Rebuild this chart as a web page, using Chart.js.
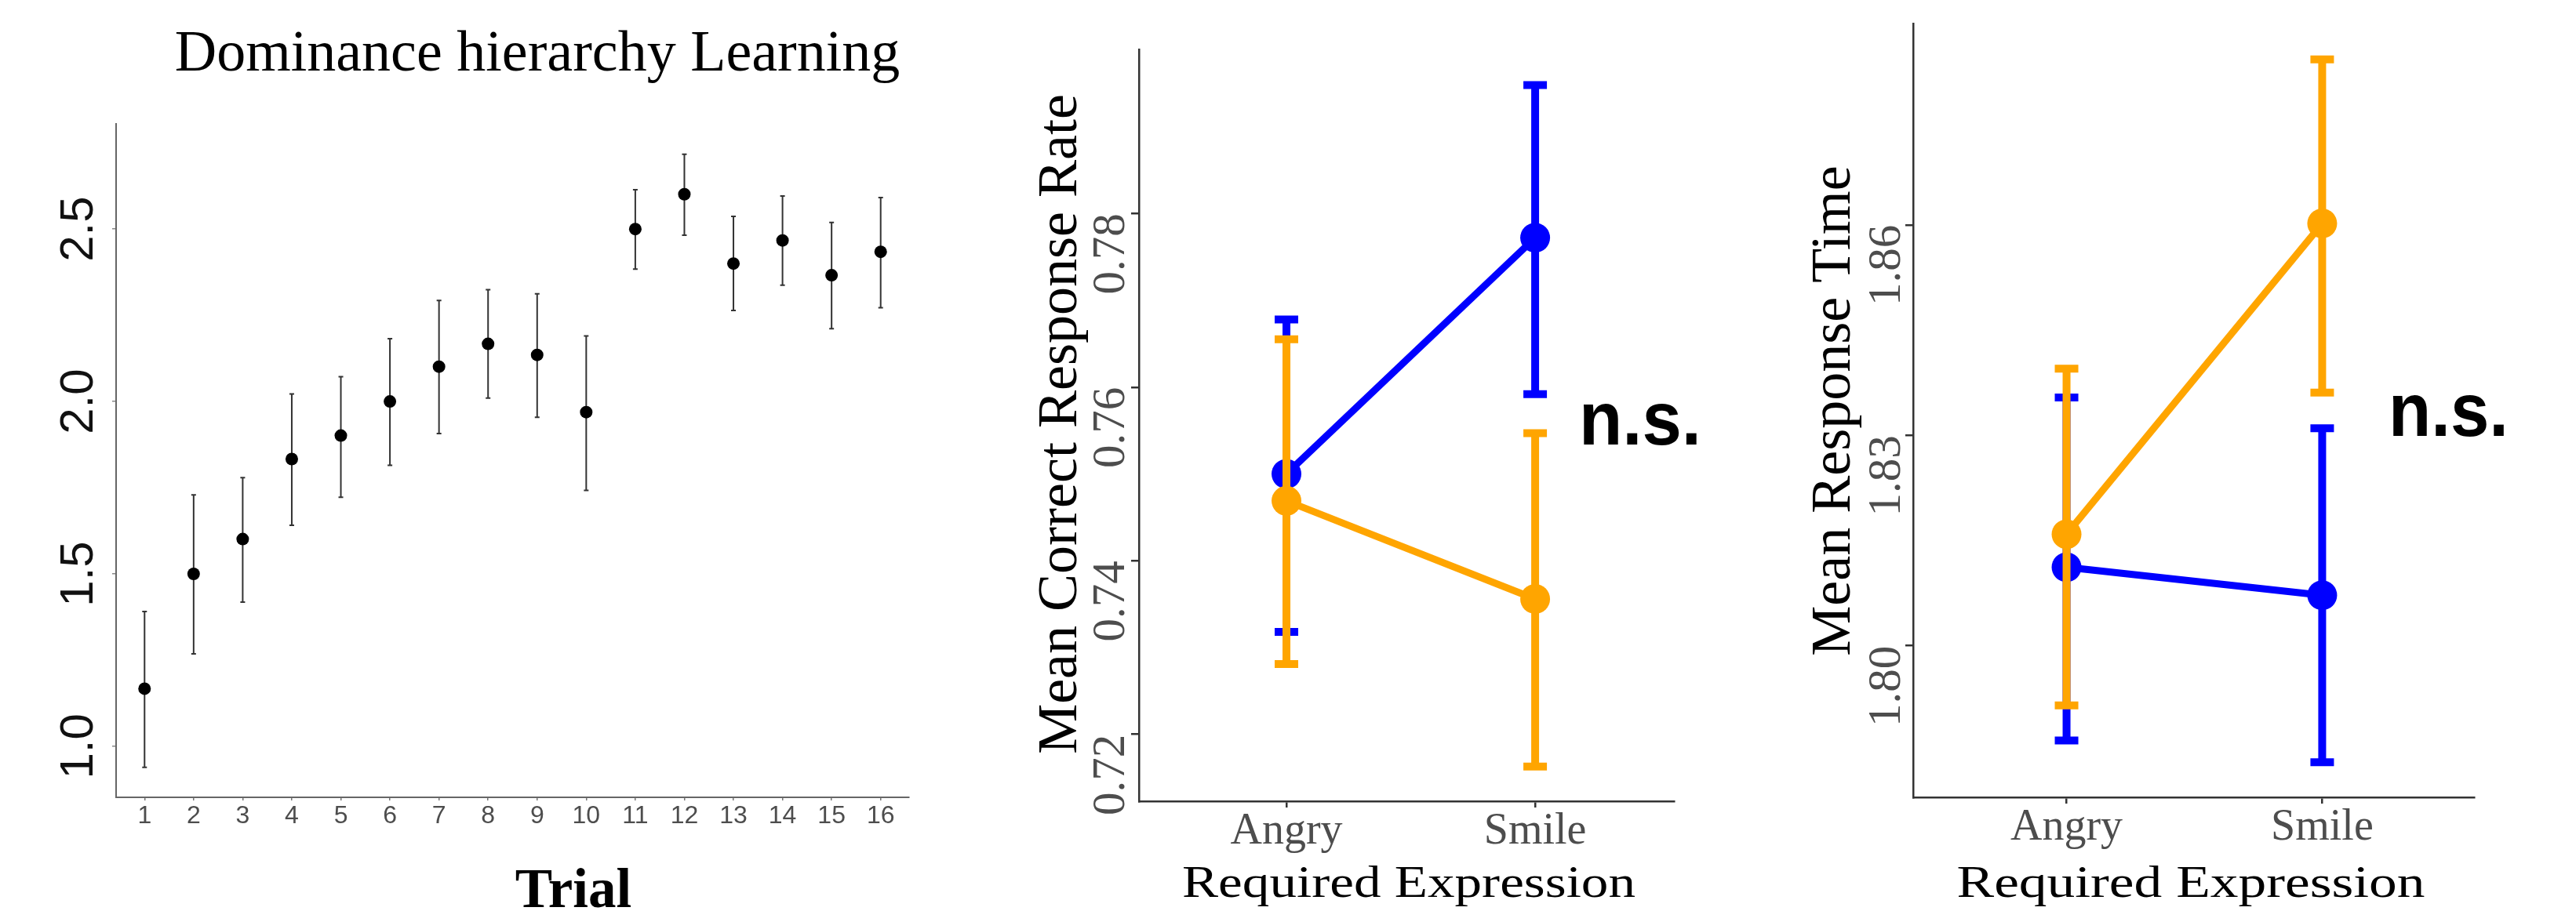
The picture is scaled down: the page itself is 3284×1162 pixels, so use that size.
<!DOCTYPE html>
<html>
<head>
<meta charset="utf-8">
<script src="https://cdn.jsdelivr.net/npm/chart.js@4.4.1/dist/chart.umd.min.js"></script>
<style>
  html, body { margin: 0; padding: 0; background: #fff; overflow: hidden; }
  .panel { position: absolute; top: 0; }
</style>
</head>
<body>
<canvas id="trialChart" class="panel" style="left:0px" width="1200" height="1162"></canvas>
<canvas id="rateChart" class="panel" style="left:1200px" width="1000" height="1162"></canvas>
<canvas id="timeChart" class="panel" style="left:2200px" width="1084" height="1162"></canvas>
<script>
// ---- data: dominance hierarchy learning ----
const trials = [1, 2, 3, 4, 5, 6, 7, 8, 9, 10, 11, 12, 13, 14, 15, 16];
const trialMean  = [1.167, 1.500, 1.601, 1.833, 1.901, 2.000, 2.101, 2.167, 2.135, 1.969, 2.500, 2.601, 2.400, 2.467, 2.366, 2.434];
const trialUpper = [1.391, 1.729, 1.779, 2.022, 2.072, 2.182, 2.293, 2.324, 2.312, 2.190, 2.614, 2.717, 2.537, 2.596, 2.519, 2.591];
const trialLower = [0.939, 1.268, 1.418, 1.641, 1.722, 1.815, 1.907, 2.010, 1.954, 1.742, 2.384, 2.482, 2.264, 2.337, 2.211, 2.272];
const trialTicks = [1.0, 1.5, 2.0, 2.5];

// ---- data: required expression ----
const expressions = ['Angry', 'Smile'];

const rateBlue        = [0.7500, 0.7772];
const rateBlueUpper   = [0.7678, 0.7948];
const rateBlueLower   = [0.7318, 0.7592];
const rateOrange      = [0.7469, 0.7356];
const rateOrangeUpper = [0.7655, 0.7547];
const rateOrangeLower = [0.7281, 0.7163];
const rateTicks = [0.72, 0.74, 0.76, 0.78];

const timeBlue        = [1.8112, 1.8072];
const timeBlueUpper   = [1.8354, 1.8310];
const timeBlueLower   = [1.7865, 1.7834];
const timeOrange      = [1.8159, 1.8602];
const timeOrangeUpper = [1.8395, 1.8836];
const timeOrangeLower = [1.7915, 1.8361];
const timeTicks = [1.80, 1.83, 1.86];

const SERIF = '"Liberation Serif", "Times New Roman", serif';
const SANS = '"Liberation Sans", Arial, sans-serif';

// error bars, drawn just before each dataset so the layering follows dataset order
const errorBars = {
  id: 'errorBars',
  beforeDatasetDraw(chart, args) {
    const ds = chart.data.datasets[args.index];
    if (!ds.errUpper) return;
    const xs = chart.scales.x, ys = chart.scales.y, ctx = chart.ctx;
    ctx.save();
    ctx.strokeStyle = ds.errColor;
    ctx.lineWidth = ds.errWidth;
    ds.data.forEach((p, i) => {
      const px = xs.getPixelForValue(p.x);
      const top = ys.getPixelForValue(ds.errUpper[i]);
      const bot = ys.getPixelForValue(ds.errLower[i]);
      ctx.beginPath();
      ctx.moveTo(px, top); ctx.lineTo(px, bot);
      ctx.moveTo(px - ds.capHalf, top); ctx.lineTo(px + ds.capHalf, top);
      ctx.moveTo(px - ds.capHalf, bot); ctx.lineTo(px + ds.capHalf, bot);
      ctx.stroke();
    });
    ctx.restore();
  }
};

// y tick labels turned 90 degrees, as in the original figure
function yTickLabels(o) {
  return {
    id: 'yTickLabels',
    afterDraw(chart) {
      const ys = chart.scales.y, ctx = chart.ctx;
      ys.ticks.forEach(t => {
        ctx.save();
        ctx.translate(o.x, ys.getPixelForValue(t.value));
        ctx.rotate(-Math.PI / 2);
        ctx.font = o.font;
        ctx.fillStyle = o.color;
        ctx.textAlign = o.align;
        ctx.textBaseline = o.baseline;
        ctx.fillText(t.value.toFixed(o.decimals), 0, 0);
        ctx.restore();
      });
    }
  };
}

// free text (titles, n.s.)
function textLayer(items) {
  return {
    id: 'textLayer',
    afterDraw(chart) {
      const ctx = chart.ctx;
      items.forEach(it => {
        ctx.save();
        ctx.font = it.font;
        ctx.fillStyle = it.color || '#000';
        ctx.textAlign = it.align || 'center';
        ctx.textBaseline = 'alphabetic';
        ctx.translate(it.x, it.y);
        if (it.rotate) ctx.rotate(it.rotate);
        if (it.width) ctx.scale(it.width / ctx.measureText(it.text).width, 1);
        ctx.fillText(it.text, 0, 0);
        ctx.restore();
      });
    }
  };
}

function points(xs, ys) {
  return xs.map((x, i) => ({ x: x, y: ys[i] }));
}

// ---------------- panel 1 ----------------
new Chart(document.getElementById('trialChart'), {
  type: 'scatter',
  data: {
    datasets: [{
      data: points(trials, trialMean),
      errUpper: trialUpper,
      errLower: trialLower,
      errColor: '#333',
      errWidth: 2,
      capHalf: 3,
      pointRadius: 8,
      pointHoverRadius: 8,
      pointBorderWidth: 0,
      backgroundColor: '#000'
    }]
  },
  options: {
    responsive: false,
    animation: false,
    devicePixelRatio: 1,
    layout: { autoPadding: false, padding: { left: 148, right: 41, top: 158, bottom: 0 } },
    plugins: { legend: { display: false }, tooltip: { enabled: false } },
    scales: {
      x: {
        type: 'linear', min: 0.42, max: 16.58,
        afterBuildTicks: s => { s.ticks = trials.map(v => ({ value: v })); },
        afterFit: s => { s.height = 145; },
        border: { display: true, color: '#666', width: 2 },
        grid: { display: true, drawOnChartArea: false, drawTicks: true, tickLength: 4, color: '#777', lineWidth: 1.5 },
        ticks: { autoSkip: false, maxRotation: 0, padding: 4, color: '#4d4d4d',
                 font: { family: SANS, size: 32, lineHeight: 1 } }
      },
      y: {
        type: 'linear', min: 0.852, max: 2.805,
        afterBuildTicks: s => { s.ticks = trialTicks.map(v => ({ value: v })); },
        afterFit: s => { s.width = 0; },
        border: { display: true, color: '#666', width: 2 },
        grid: { display: true, drawOnChartArea: false, drawTicks: true, tickLength: 5, color: '#888', lineWidth: 1.5 },
        ticks: { color: 'rgba(0,0,0,0)' }
      }
    }
  },
  plugins: [
    errorBars,
    yTickLabels({ x: 101, font: '60px ' + SANS, color: '#111', align: 'center', baseline: 'middle', decimals: 1 }),
    textLayer([
      { text: 'Dominance hierarchy Learning', x: 685, y: 90, font: '74px ' + SERIF },
      { text: 'Trial', x: 731, y: 1157, font: 'bold 71px ' + SERIF }
    ])
  ]
});

// ---------------- panels 2 and 3 ----------------
function expressionChart(id, c) {
  const idx = expressions.map((e, i) => i);
  const series = (vals, up, low, color, order) => ({
    type: 'line',
    data: points(idx, vals),
    errUpper: up,
    errLower: low,
    errColor: color,
    errWidth: 10,
    capHalf: 15,
    order: order,
    borderColor: color,
    backgroundColor: color,
    borderWidth: 9,
    tension: 0,
    fill: false,
    pointRadius: 19,
    pointHoverRadius: 19,
    pointBorderWidth: 0
  });
  new Chart(document.getElementById(id), {
    type: 'line',
    data: {
      datasets: [
        series(c.blue, c.blueUp, c.blueLow, '#0000ff', 1),
        series(c.orange, c.orangeUp, c.orangeLow, '#ffa500', 0)
      ]
    },
    options: {
      responsive: false,
      animation: false,
      devicePixelRatio: 1,
      layout: { autoPadding: false, padding: c.padding },
      plugins: { legend: { display: false }, tooltip: { enabled: false } },
      scales: {
        x: {
          type: 'linear', min: c.xMin, max: c.xMax,
          afterBuildTicks: s => { s.ticks = idx.map(v => ({ value: v })); },
          afterFit: s => { s.height = c.xHeight; },
          border: { display: true, color: '#333', width: 2.5 },
          grid: { display: true, drawOnChartArea: false, drawTicks: true, tickLength: 8, color: '#333', lineWidth: 2.5 },
          ticks: { autoSkip: false, maxRotation: 0, padding: 3, color: '#4d4d4d',
                   callback: v => expressions[v],
                   font: { family: SERIF, size: 56, lineHeight: 1 } }
        },
        y: {
          type: 'linear', min: c.yMin, max: c.yMax,
          afterBuildTicks: s => { s.ticks = c.ticks.map(v => ({ value: v })); },
          afterFit: s => { s.width = 0; },
          border: { display: true, color: '#333', width: 2.5 },
          grid: { display: true, drawOnChartArea: false, drawTicks: true, tickLength: 10, color: '#333', lineWidth: 2.5 },
          ticks: { color: 'rgba(0,0,0,0)' }
        }
      }
    },
    plugins: [
      errorBars,
      yTickLabels({ x: c.tickX, font: '59px ' + SERIF, color: '#4d4d4d', align: 'right', baseline: 'alphabetic', decimals: 2 }),
      textLayer(c.texts)
    ]
  });
}

expressionChart('rateChart', {
  blue: rateBlue, blueUp: rateBlueUpper, blueLow: rateBlueLower,
  orange: rateOrange, orangeUp: rateOrangeUpper, orangeLow: rateOrangeLower,
  ticks: rateTicks, yMin: 0.7123, yMax: 0.7989, xMin: -0.593, xMax: 1.558,
  padding: { left: 252, right: 66, top: 63, bottom: 0 },
  xHeight: 140,
  tickX: 233,
  texts: [
    { text: 'Mean Correct Response Rate', x: 172, y: 541, rotate: -Math.PI / 2, font: '72px ' + SERIF },
    { text: 'Required Expression', x: 596, y: 1144, font: '56px ' + SERIF, width: 578 },
    { text: 'n.s.', x: 813, y: 567, align: 'left', font: 'bold 96px ' + SANS, width: 156 }
  ]
});

expressionChart('timeChart', {
  blue: timeBlue, blueUp: timeBlueUpper, blueLow: timeBlueLower,
  orange: timeOrange, orangeUp: timeOrangeUpper, orangeLow: timeOrangeLower,
  ticks: timeTicks, yMin: 1.7784, yMax: 1.8887, xMin: -0.6, xMax: 1.594,
  padding: { left: 239, right: 130, top: 30, bottom: 0 },
  xHeight: 145,
  tickX: 222,
  texts: [
    { text: 'Mean Response Time', x: 158, y: 524, rotate: -Math.PI / 2, font: '72px ' + SERIF },
    { text: 'Required Expression', x: 593, y: 1144, font: '56px ' + SERIF, width: 597 },
    { text: 'n.s.', x: 845, y: 556, align: 'left', font: 'bold 96px ' + SANS, width: 153 }
  ]
});
</script>
</body>
</html>
